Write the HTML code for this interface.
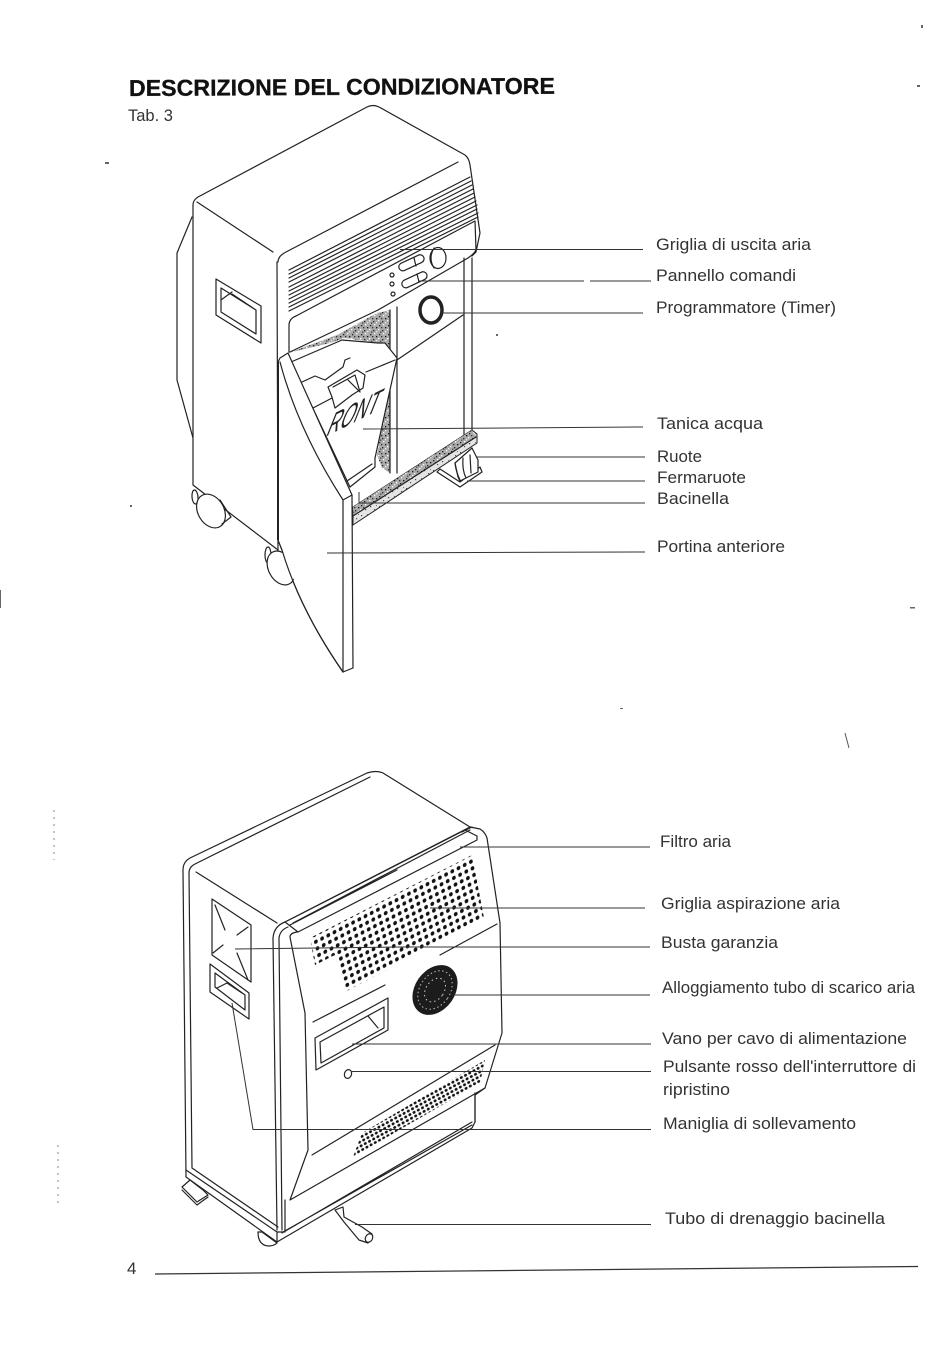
<!DOCTYPE html>
<html lang="it">
<head>
<meta charset="utf-8">
<title>Descrizione del condizionatore</title>
<style>
html,body{margin:0;padding:0;background:#fff;width:950px;height:1361px;overflow:hidden}
svg{display:block}
.l{fill:none;stroke:#222;stroke-width:1.2;stroke-linejoin:round;stroke-linecap:round}
.w{fill:#fff;stroke:#222;stroke-width:1.2;stroke-linejoin:round}
.t{fill:none;stroke:#333;stroke-width:1}
.lab{font-family:"Liberation Sans",sans-serif;font-size:17px;fill:#333}
</style>
</head>
<body>
<svg width="950" height="1361" viewBox="0 0 950 1361" xmlns="http://www.w3.org/2000/svg">
<defs>
<pattern id="sp" width="9" height="9" patternUnits="userSpaceOnUse">
<rect width="9" height="9" fill="#aaa"/>
<rect x="1" y="1" width="1.3" height="1.3" fill="#222"/><rect x="5" y="0" width="1.3" height="1.3" fill="#fff"/>
<rect x="3" y="3" width="1.3" height="1.3" fill="#333"/><rect x="7" y="3" width="1.3" height="1.3" fill="#111"/>
<rect x="0" y="5" width="1.3" height="1.3" fill="#fff"/><rect x="4" y="6" width="1.3" height="1.3" fill="#222"/>
<rect x="7" y="7" width="1.3" height="1.3" fill="#eee"/><rect x="2" y="7.5" width="1.3" height="1.3" fill="#444"/>
</pattern>
<pattern id="sp3" width="9" height="9" patternUnits="userSpaceOnUse">
<rect width="9" height="9" fill="#e4e4e4"/>
<rect x="1" y="2" width="1.2" height="1.2" fill="#444"/><rect x="5" y="5" width="1.2" height="1.2" fill="#555"/>
<rect x="7" y="1" width="1" height="1" fill="#777"/>
</pattern>
<pattern id="dots" width="10" height="10" patternUnits="userSpaceOnUse" patternTransform="matrix(.62 -.32 .16 .66 312 940)">
<circle cx="5" cy="5" r="2.9" fill="#111"/>
</pattern>
<pattern id="dots2" width="10" height="10" patternUnits="userSpaceOnUse" patternTransform="matrix(.42 -.23 .16 .36 353 1157)">
<circle cx="5" cy="5" r="3.3" fill="#111"/>
</pattern>
</defs>
<rect width="950" height="1361" fill="#fff"/>

<!-- heading -->
<text x="129" y="96" transform="rotate(-.3 129 96)" font-family="'Liberation Sans',sans-serif" font-weight="700" font-size="23" fill="#111" stroke="#111" stroke-width=".3" textLength="426" lengthAdjust="spacingAndGlyphs">DESCRIZIONE DEL CONDIZIONATORE</text>
<text x="128" y="121" class="lab" style="font-size:16.5px">Tab. 3</text>

<!-- TOP UNIT -->
<path class="l" d="M192 217 177 253V380L193 438"/>
<path fill="#fff" d="M193 205Q193 200 198 197L367 107Q373 104 379 107L465 155Q469 158 470 165L480 233L476 252L464 262V440H397V360L378 362 350 370 282 352 278 550 193 485Z"/>
<path class="l" d="M278 550 193 485V205Q193 200 198 197L367 107Q373 104 379 107L465 155Q469 158 470 165L480 233 476 252 472 256"/>
<path class="l" d="M197 202 273 252"/>
<path class="l" d="M278 262Q278 256 286 252L458 162"/>
<path class="l" d="M277 262 278 550"/>
<path class="l" d="M289 270 470 177M289 274 471 181M289 278 472 185M289 282 473 189M289 287 474 193M289 291 475 197M289 295 476 201M289 299 477 205M289 303 477 209M289 307 478 213M289 311 478 217"/>
<path class="l" d="M289 352V324Q290 318 296 316L475 221 476 250Q474 254 468 258L378 310"/>
<!-- side handle -->
<path class="w" d="M216 279 261 306V343L216 315Z"/>
<path class="l" d="M221 288 256 310V334L221 312ZM221 300 232 292M232 294 256 310"/>
<!-- controls -->
<path class="l" d="M397 307V473M464 258V436M472 258V431"/>
<path class="l" d="M397 360 463 315"/>
<ellipse class="w" cx="438" cy="258" rx="8" ry="10.5"/><path class="l" d="M434 248Q428 258 434 268"/>
<g class="w"><rect x="398" y="259" width="27" height="8" rx="4" transform="rotate(-25 411 263)"/><rect x="401" y="276" width="27" height="8" rx="4" transform="rotate(-25 414 280)"/></g>
<path class="l" d="M414 258 416 266M417 274 419 282"/>
<circle class="w" cx="392" cy="275" r="2"/><circle class="w" cx="392" cy="284" r="2"/><circle class="w" cx="393" cy="294" r="2"/>
<ellipse cx="431" cy="310" rx="11" ry="13" fill="#fff" stroke="#222" stroke-width="3.5"/>
<!-- speckled cavity -->
<path d="M288 353 337 335 377 313 390 310V350L378 343 345 338 330 343Z" fill="url(#sp)"/>
<path d="M390 345V473L382 468 377 455 387 397Z" fill="url(#sp)"/>
<path class="l" d="M378 310 290 352M390 310V473"/>
<!-- tank -->
<path class="w" d="M291 362 342 340 378 343 385 343 397 358 375 458V467L350 487Z"/>
<path class="l" d="M302 382 315 376 325 380 343 367 345 360 350 358M366 372 395 360M313 408 332 398M347 481 372 464"/>
<path class="w" d="M328 387 357 370 365 375 363 388 352 395 335 408 332 397Z"/>
<path class="l" d="M333 387 355 375 360 392 348 380"/>
<text transform="matrix(.6 -.3 -.46 1.15 325 437)" font-family="'Liberation Sans',sans-serif" font-size="30" fill="#222">RONT</text>
<!-- tray -->
<path d="M353 507 472 430 477 434 477 443 353 525Z" fill="url(#sp3)" stroke="#222"/>
<path d="M353 507 472 430 476 437 353 516Z" fill="url(#sp)"/>
<path class="l" d="M353 516 476 437"/>
<!-- door -->
<path class="w" d="M280 358 288 353 352 495 353 668 343 672Q300 610 282 550L278 540V362Z"/>
<path class="l" d="M280 362Q298 430 343 500L352 495M343 500V672"/>
<path d="M278 362V540" stroke="#222" stroke-width="2"/>
<!-- right wheel & stop -->
<path class="w" d="M437 472 460 487 482 472 480 467 460 482 440 469Z"/>
<path class="w" d="M455 463 472 448 478 460V472L460 481 458 477Z"/>
<path class="l" d="M455 463Q456 472 460 480M463 458Q462 470 466 478M470 455 471 473"/>
<!-- left wheels -->
<ellipse class="w" cx="195" cy="497" rx="3" ry="7" transform="rotate(-5 195 497)"/>
<ellipse class="w" cx="211" cy="511" rx="13" ry="18" transform="rotate(-30 211 511)"/>
<path class="l" d="M220 500 231 517 222 524"/>
<ellipse class="w" cx="268" cy="555" rx="3" ry="8"/>
<ellipse class="w" cx="281" cy="568" rx="12.5" ry="18" transform="rotate(-28 281 568)"/>
<path d="M278 540 282 550 296 585 305 580 290 540Z" fill="#fff"/>
<path class="l" d="M278 540 282 550Q300 610 343 672"/>

<!-- top leaders -->
<g class="t">
<path d="M400 249.5H643M418 281H584M590 281H651M441 313H643M363 429 643 427M477 457H645M467 481H645M359 492V503H645M327 553 645 552"/>
</g>

<!-- BOTTOM UNIT -->
<path class="w" d="M183 870Q183 862 190 858L367 773Q376 770 383 773L470 827 480 829Q485 832 487 838L500 923 502 1033 485 1088 475 1095 475 1122 472 1128 277 1242 186 1177Z"/>
<path class="l" d="M189 873Q189 867 195 864L370 777"/>
<path class="l" d="M189 873 192 1168 278 1227"/>
<path class="l" d="M196 872 277 923"/>
<path class="l" d="M273 938Q274 926 285 922L470 827"/>
<path class="l" d="M279 938Q280 930 288 927M279 938 282 1230M273 938 277 1230"/>
<path class="l" d="M186 1170 277 1232V1242M277 1232 283 1232 472 1125M282 1233 472 1122"/>
<path class="l" d="M475 1093V1122"/>
<!-- filter bar -->
<path class="w" d="M285 922 295 917 465 830 477 836V840L298 932Z"/>
<path class="l" d="M293 923 470 830M290 925 397 870M462 832 472 827"/>
<!-- side square & handle -->
<path class="w" d="M212 899 251 925V982L212 955Z"/>
<path class="l" d="M215 905 225 930M248 927 237 935M213 953 223 945M237 953 248 980"/>
<path class="w" d="M210 964 249 993V1019L210 992Z"/>
<path class="l" d="M215 973 245 995V1010L215 987ZM217 988 227 983 242 993"/>
<!-- front panel -->
<path class="l" d="M290 937 305 1013 308 1150 290 1200 485 1088"/>
<path class="l" d="M285 1200V1232M290 937Q290 933 297 932"/>
<path class="l" d="M312 1155 495 1045M497 924 440 955M313 1022 385 985"/>
<!-- grilles -->
<path d="M310 938 472 855 484 918 345 992 335 955 315 965Z" fill="url(#dots)"/>
<path d="M353 1157 362 1133 485 1060 480 1083Z" fill="url(#dots2)"/>
<!-- disc -->
<ellipse cx="435" cy="990" rx="20" ry="27" transform="rotate(35 435 990)" fill="#1c1c1c"/>
<ellipse cx="435" cy="990" rx="15" ry="21" transform="rotate(35 435 990)" fill="none" stroke="#bbb" stroke-width="1" stroke-dasharray="1.5 2.5"/>
<ellipse cx="435" cy="990" rx="9" ry="13" transform="rotate(35 435 990)" fill="none" stroke="#ccc" stroke-width="1" stroke-dasharray="1.5 3"/>
<!-- cord slot -->
<path class="w" d="M315 1038 388 998V1030L316 1070Z"/>
<path class="l" d="M320 1042 384 1007 384 1028 321 1063ZM368 1016 378 1028"/>
<!-- red button -->
<ellipse class="w" cx="348" cy="1074" rx="3.5" ry="4.5" transform="rotate(20 348 1074)"/>
<!-- feet, wheel, pipe -->
<path class="w" d="M182 1187 197 1202 208 1195 203 1190 190 1180Z"/>
<path class="l" d="M182 1190 197 1205 208 1197"/>
<path class="w" d="M258 1232Q258 1245 268 1246 274 1246 277 1243L262 1232Z"/>
<path class="w" d="M335 1210 343 1207 344 1217 362 1227 372 1234 368 1243 359 1240 344 1222Z"/>
<ellipse class="w" cx="369" cy="1238" rx="3.5" ry="4.5" transform="rotate(30 369 1238)"/>

<!-- bottom leaders -->
<g class="t">
<path d="M460 847H650M430 908H645M235 949 400 947H650M455 995H650M352 1044H651M352 1071.5H651M232 1003 253 1129.5H651M355 1224.5H651"/>
</g>

<!-- labels -->
<text class="lab" x="656" y="250" textLength="155" lengthAdjust="spacingAndGlyphs">Griglia di uscita aria</text>
<text class="lab" x="656" y="281" textLength="140" lengthAdjust="spacingAndGlyphs">Pannello comandi</text>
<text class="lab" x="656" y="313" textLength="180" lengthAdjust="spacingAndGlyphs">Programmatore (Timer)</text>
<text class="lab" x="657" y="429" textLength="106" lengthAdjust="spacingAndGlyphs">Tanica acqua</text>
<text class="lab" x="657" y="462" textLength="45" lengthAdjust="spacingAndGlyphs">Ruote</text>
<text class="lab" x="657" y="483" textLength="89" lengthAdjust="spacingAndGlyphs">Fermaruote</text>
<text class="lab" x="657" y="504" textLength="72" lengthAdjust="spacingAndGlyphs">Bacinella</text>
<text class="lab" x="657" y="552" textLength="128" lengthAdjust="spacingAndGlyphs">Portina anteriore</text>
<text class="lab" x="660" y="847" textLength="71" lengthAdjust="spacingAndGlyphs">Filtro aria</text>
<text class="lab" x="661" y="909" textLength="179" lengthAdjust="spacingAndGlyphs">Griglia aspirazione aria</text>
<text class="lab" x="661" y="948" textLength="117" lengthAdjust="spacingAndGlyphs">Busta garanzia</text>
<text class="lab" x="662" y="993" textLength="253" lengthAdjust="spacingAndGlyphs">Alloggiamento tubo di scarico aria</text>
<text class="lab" x="662" y="1044" textLength="245" lengthAdjust="spacingAndGlyphs">Vano per cavo di alimentazione</text>
<text class="lab" x="663" y="1072" textLength="253" lengthAdjust="spacingAndGlyphs">Pulsante rosso dell'interruttore di</text>
<text class="lab" x="663" y="1095" textLength="67" lengthAdjust="spacingAndGlyphs">ripristino</text>
<text class="lab" x="663" y="1129" textLength="193" lengthAdjust="spacingAndGlyphs">Maniglia di sollevamento</text>
<text class="lab" x="665" y="1224" textLength="220" lengthAdjust="spacingAndGlyphs">Tubo di drenaggio bacinella</text>

<!-- footer -->
<text class="lab" x="127" y="1274">4</text>
<path d="M155 1274 918 1266.5" stroke="#333" stroke-width="1.2"/>

<!-- specks -->
<g fill="#666">
<rect x="105" y="162" width="4" height="2"/><rect x="917" y="85" width="3" height="2"/><rect x="921" y="25" width="2" height="3"/>
<rect x="910" y="607" width="5" height="1.5"/><rect x="130" y="505" width="2" height="2"/>
<rect x="496" y="334" width="2" height="2"/><rect x="620" y="708" width="3" height="1"/><rect x="0" y="590" width="1" height="18"/>
<path d="M845 733 849 748" stroke="#555" fill="none"/>
<path d="M58 1145V1205M54 810V860" stroke="#888" stroke-dasharray="2 5" fill="none"/>
</g>
</svg>
</body>
</html>
